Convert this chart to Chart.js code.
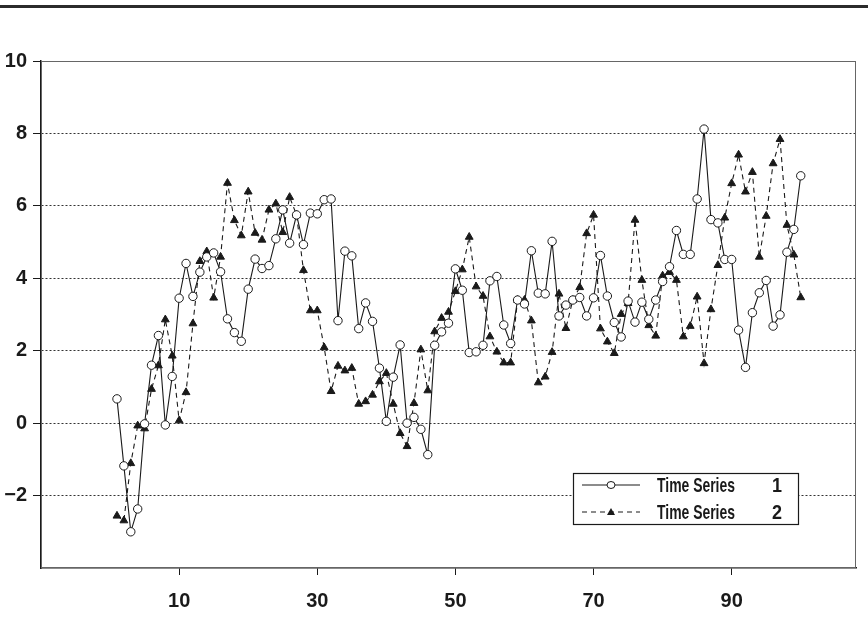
<!DOCTYPE html>
<html>
<head>
<meta charset="utf-8">
<script src="https://cdn.jsdelivr.net/npm/chart.js"></script>
<style>
  html, body { margin: 0; padding: 0; background: #fff; }
  #wrap { position: relative; width: 868px; height: 631px; }
  #topRule { position: absolute; left: 0; top: 5px; width: 868px; height: 3px; background: #2b2b2b; }
  #chart { position: absolute; left: 0; top: 0; }
</style>
</head>
<body>
<div id="wrap">
  <div id="topRule"></div>
  <canvas id="chart" width="868" height="631"></canvas>
</div>
<script>
// valores (t = 1..100)
const timeIndex = Array.from({ length: 100 }, (_, i) => i + 1);

const series1 = [
  0.67, -1.18, -3.00, -2.37, -0.02, 1.60, 2.42, -0.05, 1.29, 3.45,
  4.41, 3.50, 4.17, 4.59, 4.70, 4.18, 2.88, 2.50, 2.26, 3.70,
  4.53, 4.27, 4.35, 5.09, 5.89, 4.97, 5.75, 4.93, 5.80, 5.78,
  6.17, 6.19, 2.83, 4.75, 4.62, 2.61, 3.32, 2.81, 1.52, 0.05,
  1.27, 2.16, 0.00, 0.16, -0.17, -0.87, 2.15, 2.52, 2.76, 4.26,
  3.67, 1.95, 1.97, 2.15, 3.93, 4.05, 2.71, 2.20, 3.40, 3.29,
  4.76, 3.59, 3.57, 5.02, 2.96, 3.26, 3.40, 3.47, 2.96, 3.46,
  4.63, 3.51, 2.78, 2.38, 3.37, 2.79, 3.34, 2.87, 3.40, 3.91,
  4.32, 5.32, 4.66, 4.66, 6.19, 8.12, 5.62, 5.53, 4.52, 4.52,
  2.57, 1.54, 3.05, 3.60, 3.94, 2.68, 2.99, 4.72, 5.35, 6.83
];

const series2 = [
  -2.56, -2.69, -1.11, -0.07, -0.15, 0.94, 1.59, 2.86, 1.86, 0.07,
  0.85, 2.75, 4.47, 4.74, 3.46, 4.59, 6.63, 5.60, 5.18, 6.39,
  5.25, 5.06, 5.89, 6.06, 5.27, 6.24, 5.75, 4.22, 3.11, 3.11,
  2.09, 0.88, 1.58, 1.45, 1.52, 0.53, 0.60, 0.78, 1.15, 1.38,
  0.53, -0.28, -0.64, 0.55, 2.03, 0.90, 2.53, 2.90, 3.07, 3.64,
  4.24, 5.14, 3.77, 3.51, 2.39, 1.97, 1.67, 1.67, 3.40, 3.40,
  2.83, 1.12, 1.28, 1.96, 3.57, 2.62, 3.40, 3.75, 5.24, 5.75,
  2.61, 2.25, 1.93, 3.01, 3.31, 5.61, 3.95, 2.70, 2.41, 4.07,
  4.17, 3.95, 2.39, 2.68, 3.49, 1.65, 3.14, 4.36, 5.67, 6.62,
  7.41, 6.39, 6.93, 4.59, 5.72, 7.17, 7.84, 5.47, 4.65, 3.47
];

const xTicks = [10, 30, 50, 70, 90];
const yTicks = [-2, 0, 2, 4, 6, 8, 10];
const seriesLabels = ['Time Series  1', 'Time Series  2'];

const FONT = '"Liberation Sans", Arial, sans-serif';
const INK = '#1a1a1a';

function toPoints(values) {
    return values.map((v, i) => ({ x: timeIndex[i], y: v }));
}

// desenha a moldura do gráfico e a legenda dentro da área de plotagem
const frameAndLegend = {
    id: 'frameAndLegend',
    afterDraw(chart) {
        const { ctx, chartArea: a } = chart;
        ctx.save();
        ctx.strokeStyle = '#666';
        ctx.lineWidth = 1;
        ctx.setLineDash([]);
        ctx.strokeRect(a.left + 0.5, a.top + 0.5, a.right - a.left - 1, a.bottom - a.top - 1);

        // legenda
        const bx = 573, by = 473, bw = 225, bh = 51;
        ctx.fillStyle = '#fff';
        ctx.fillRect(bx, by, bw, bh);
        ctx.strokeStyle = INK;
        ctx.lineWidth = 1.2;
        ctx.strokeRect(bx + 0.5, by + 0.5, bw, bh);

        const rows = [by + 12, by + 39];
        chart.data.datasets.forEach((ds, k) => {
            const y = rows[k];
            ctx.strokeStyle = INK;
            ctx.lineWidth = ds.borderWidth;
            ctx.setLineDash(ds.borderDash || []);
            ctx.beginPath();
            ctx.moveTo(582, y);
            ctx.lineTo(640, y);
            ctx.stroke();
            ctx.setLineDash([]);
            const mx = 611;
            if (k === 0) {
                ctx.beginPath();
                ctx.ellipse(mx, y, 4, 3.5, 0, 0, Math.PI * 2);
                ctx.fillStyle = '#fff';
                ctx.fill();
                ctx.lineWidth = 1;
                ctx.stroke();
            } else {
                ctx.beginPath();
                ctx.moveTo(mx, y - 4);
                ctx.lineTo(mx + 4, y + 3);
                ctx.lineTo(mx - 4, y + 3);
                ctx.closePath();
                ctx.fillStyle = INK;
                ctx.fill();
            }
            // nome e número ficam separados, como no original
            const parts = ds.label.split(/\s{2,}/);
            ctx.fillStyle = INK;
            ctx.font = 'bold 21px ' + FONT;
            ctx.textBaseline = 'middle';
            ctx.textAlign = 'left';
            ctx.fillText(parts[0], 657, y + 1, 78);
            ctx.textAlign = 'right';
            ctx.fillText(parts[1], 782, y + 1, 10);
        });
        ctx.restore();
    }
};

function drawChart() {
    const ctx = document.getElementById('chart').getContext('2d');

    new Chart(ctx, {
        type: 'line',
        data: {
            datasets: [
                {
                    label: seriesLabels[0],
                    data: toPoints(series1),
                    borderColor: INK,
                    borderWidth: 1.1,
                    pointStyle: 'circle',
                    pointRadius: 4.2,
                    pointBackgroundColor: '#fff',
                    pointBorderColor: INK,
                    pointBorderWidth: 1,
                    tension: 0,
                    order: 1
                },
                {
                    label: seriesLabels[1],
                    data: toPoints(series2),
                    borderColor: INK,
                    borderWidth: 1.1,
                    borderDash: [5, 4],
                    pointStyle: 'triangle',
                    pointRadius: 4.5,
                    pointBackgroundColor: INK,
                    pointBorderColor: INK,
                    pointBorderWidth: 1,
                    tension: 0,
                    order: 2
                }
            ]
        },
        options: {
            responsive: false,
            animation: false,
            devicePixelRatio: 1,
            layout: { padding: { top: 61, right: 12, left: 0, bottom: 0 } },
            plugins: {
                legend: { display: false },
                tooltip: { enabled: false }
            },
            scales: {
                x: {
                    type: 'linear',
                    min: -10,
                    max: 108,
                    afterBuildTicks: s => { s.ticks = xTicks.map(v => ({ value: v })); },
                    afterFit: s => { s.height = 63; },
                    grid: {
                        drawOnChartArea: false,
                        drawTicks: true,
                        tickLength: 7,
                        tickColor: INK,
                        tickWidth: 1
                    },
                    border: { display: true, color: INK, width: 1.5 },
                    ticks: {
                        color: INK,
                        padding: 14,
                        maxRotation: 0,
                        font: { family: FONT, size: 20, weight: 'bold' }
                    }
                },
                y: {
                    min: -4,
                    max: 10,
                    afterBuildTicks: s => { s.ticks = yTicks.map(v => ({ value: v })); },
                    afterFit: s => { s.width = 41; },
                    grid: {
                        drawOnChartArea: true,
                        color: '#333',
                        lineWidth: 1,
                        drawTicks: true,
                        tickLength: 8,
                        tickColor: INK,
                        tickWidth: 1,
                        tickBorderDash: []
                    },
                    border: { display: true, color: INK, width: 1.5, dash: [2, 2] },
                    ticks: {
                        color: INK,
                        padding: 6,
                        font: { family: FONT, size: 20, weight: 'bold' },
                        callback: v => (v < 0 ? '\u2212' + Math.abs(v) : String(v))
                    }
                }
            }
        },
        plugins: [frameAndLegend]
    });
}

// garante que a fonte esteja carregada antes de desenhar no canvas
document.fonts.load('bold 20px "Liberation Sans"').then(drawChart, drawChart);
</script>
</body>
</html>
